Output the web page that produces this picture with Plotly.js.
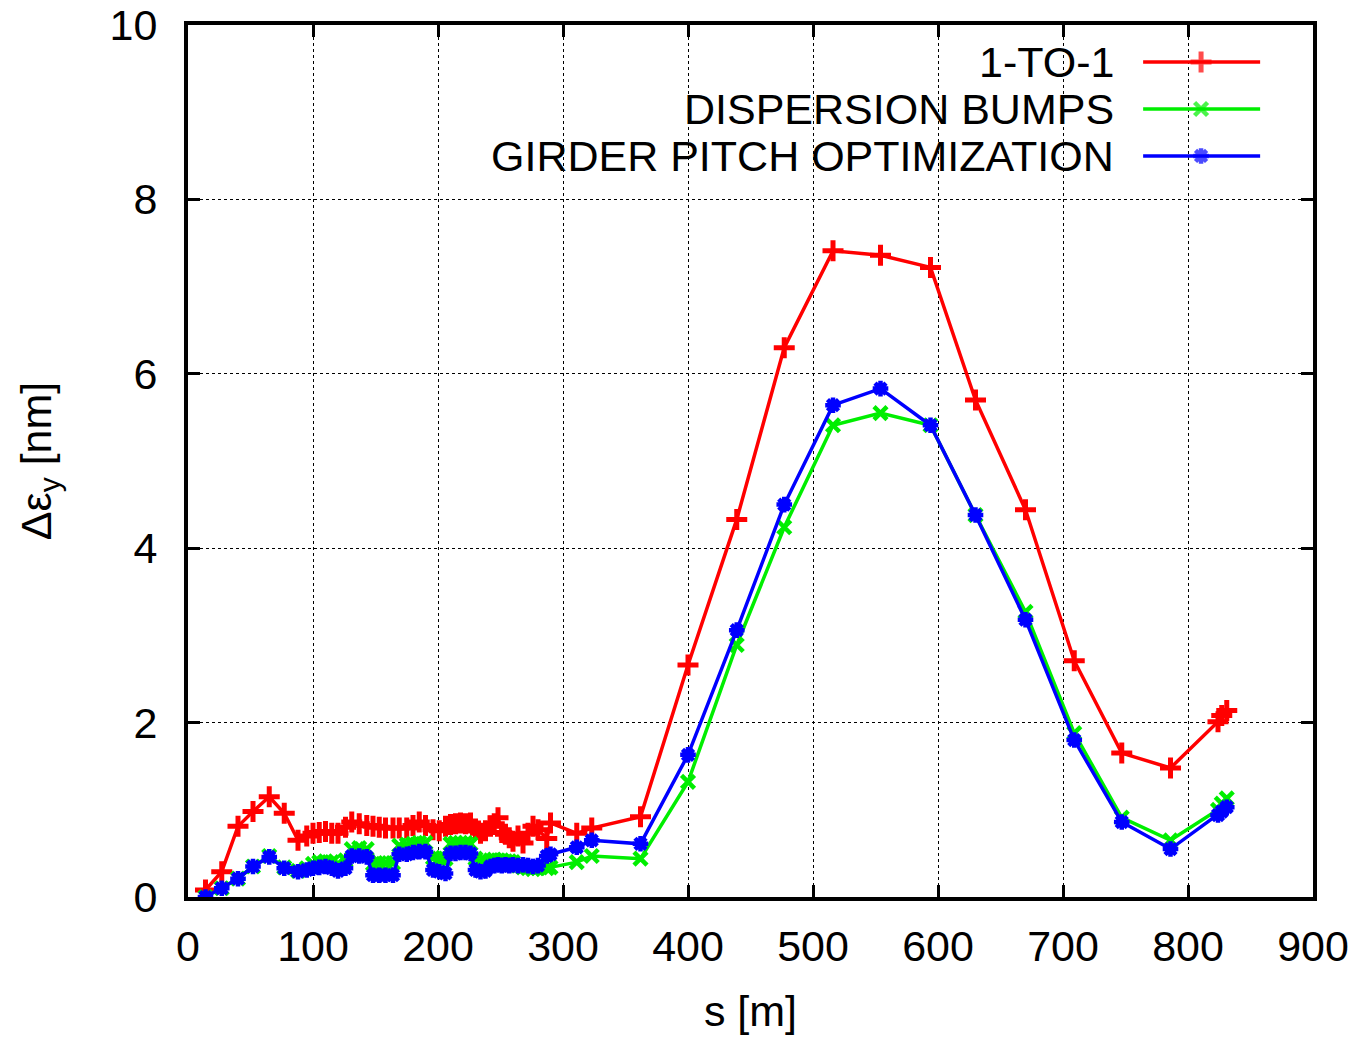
<!DOCTYPE html>
<html>
<head>
<meta charset="utf-8">
<script src="https://cdn.plot.ly/plotly-3.0.1.min.js"></script>
<style>html,body{margin:0;padding:0;background:#fff;}#chart{width:1360px;height:1042px;}</style>
</head>
<body>
<div id="chart"></div>
<script>
// s positions [m]
const s = [14, 27, 40, 52, 65, 77, 88, 95, 100, 105, 110, 115, 120, 126, 131, 137, 143, 148, 153, 158,
  164, 169, 175, 180, 185, 190, 196, 201, 206, 210, 214, 218, 222, 226, 230, 234, 238, 242, 245, 248,
  251, 254, 257, 260, 264, 268, 272, 276, 280, 287, 290, 311, 323, 362, 400, 439, 477, 516, 554, 594,
  630, 670, 709, 747, 786, 824, 827, 831];

const oneToOne = [0.08, 0.29, 0.81, 0.98, 1.15, 0.96, 0.65, 0.70, 0.73, 0.74, 0.75, 0.73, 0.73, 0.80, 0.86, 0.84, 0.82, 0.81, 0.80, 0.79,
  0.79, 0.79, 0.79, 0.82, 0.86, 0.82, 0.77, 0.76, 0.81, 0.83, 0.84, 0.85, 0.84, 0.85, 0.78, 0.73, 0.76, 0.81, 0.84, 0.91,
  0.74, 0.72, 0.68, 0.64, 0.70, 0.62, 0.73, 0.81, 0.77, 0.67, 0.85, 0.73, 0.79, 0.92, 2.66, 4.33, 6.30, 7.41, 7.36, 7.22,
  5.70, 4.44, 2.71, 1.65, 1.48, 2.01, 2.08, 2.14];

const dispersionBumps = [0.00, 0.10, 0.21, 0.35, 0.47, 0.34, 0.30, 0.33, 0.38, 0.40, 0.41, 0.40, 0.38, 0.42, 0.55, 0.56, 0.55, 0.38, 0.39, 0.39,
  0.39, 0.59, 0.60, 0.61, 0.62, 0.62, 0.45, 0.44, 0.44, 0.61, 0.62, 0.62, 0.62, 0.61, 0.44, 0.40, 0.41, 0.42, 0.43, 0.42,
  0.42, 0.41, 0.41, 0.40, 0.36, 0.34, 0.33, 0.32, 0.33, 0.33, 0.34, 0.40, 0.47, 0.44, 1.32, 2.89, 4.24, 5.41, 5.55, 5.41,
  4.38, 3.27, 1.88, 0.91, 0.65, 1.00, 1.07, 1.13];

const girderPitch = [0.00, 0.10, 0.21, 0.35, 0.46, 0.33, 0.29, 0.31, 0.33, 0.34, 0.35, 0.33, 0.30, 0.33, 0.47, 0.47, 0.46, 0.25, 0.25, 0.25,
  0.25, 0.49, 0.49, 0.51, 0.52, 0.52, 0.31, 0.29, 0.27, 0.50, 0.50, 0.51, 0.51, 0.50, 0.31, 0.29, 0.30, 0.35, 0.36, 0.37,
  0.36, 0.37, 0.36, 0.37, 0.36, 0.37, 0.36, 0.35, 0.36, 0.47, 0.49, 0.57, 0.65, 0.61, 1.63, 3.06, 4.50, 5.64, 5.83, 5.41,
  4.38, 3.18, 1.80, 0.86, 0.55, 0.94, 0.98, 1.03];

const seriesNames = ['1-TO-1', 'DISPERSION BUMPS', 'GIRDER PITCH OPTIMIZATION'];
const xTicks = [0, 100, 200, 300, 400, 500, 600, 700, 800, 900];
const yTicks = [0, 2, 4, 6, 8, 10];

const FONT = '"Liberation Sans", Arial, Helvetica, sans-serif';
const styles = [
  {color: '#ff0000', symbol: 'cross-thin', size: 15, lw: 5},
  {color: '#00ee00', symbol: 'x-thin', size: 13, lw: 4.5},
  {color: '#0000ff', symbol: 'asterisk', size: 13, lw: 4.5}
];
const seriesData = [oneToOne, dispersionBumps, girderPitch];

const traces = seriesData.map((ys, i) => ({
  type: 'scatter', mode: 'lines+markers', x: s, y: ys, name: seriesNames[i],
  line: {color: styles[i].color, width: 3.5},
  marker: {symbol: styles[i].symbol, size: styles[i].size, color: styles[i].color,
           line: {color: styles[i].color, width: styles[i].lw}},
  showlegend: false, cliponaxis: true
}));

// legend keys (drawn on a hidden overlay axis in 0..1 space)
const keyX = [0.849, 0.9005, 0.953];
const keyY = [0.9576, 0.9037, 0.8498];
const annotations = [];
seriesNames.forEach((name, i) => {
  traces.push({
    type: 'scatter', mode: 'lines+markers', xaxis: 'x2', yaxis: 'y2',
    x: keyX, y: [keyY[i], keyY[i], keyY[i]],
    line: {color: styles[i].color, width: 3.5},
    marker: {symbol: styles[i].symbol, size: [0, styles[i].size, 0], color: styles[i].color,
             line: {color: styles[i].color, width: styles[i].lw}},
    showlegend: false, hoverinfo: 'skip'
  });
  annotations.push({
    xref: 'paper', yref: 'paper', x: 0.8245, y: keyY[i], xanchor: 'right', yanchor: 'middle',
    text: name, showarrow: false, font: {family: FONT, size: 43, color: '#000'}
  });
});

const axisCommon = {
  showline: true, linecolor: '#000', linewidth: 4, mirror: 'allticks',
  ticks: 'inside', ticklen: 12, tickwidth: 3, tickcolor: '#000',
  showgrid: true, gridcolor: '#000', gridwidth: 1, griddash: 'dot',
  zeroline: false, tickfont: {family: FONT, size: 43, color: '#000'}
};

const layout = {
  width: 1360, height: 1042,
  margin: {l: 188, r: 47, t: 25, b: 145},
  paper_bgcolor: '#fff', plot_bgcolor: '#fff',
  font: {family: FONT, color: '#000'},
  xaxis: Object.assign({}, axisCommon, {
    range: [0, 900], tickvals: xTicks, ticktext: xTicks.map(String), ticklabelstandoff: 8,
    title: {text: 's [m]', font: {family: FONT, size: 43}, standoff: 28}
  }),
  yaxis: Object.assign({}, axisCommon, {
    range: [0, 10], tickvals: yTicks, ticktext: yTicks.map(String), ticklabelstandoff: 18,
    title: {text: 'Δε<sub>y</sub> [nm]', font: {family: FONT, size: 43}, standoff: 46}
  }),
  xaxis2: {overlaying: 'x', range: [0, 1], visible: false, fixedrange: true},
  yaxis2: {overlaying: 'y', range: [0, 1], visible: false, fixedrange: true},
  annotations: annotations,
  showlegend: false
};

Plotly.newPlot('chart', traces, layout, {staticPlot: true});
</script>
</body>
</html>
